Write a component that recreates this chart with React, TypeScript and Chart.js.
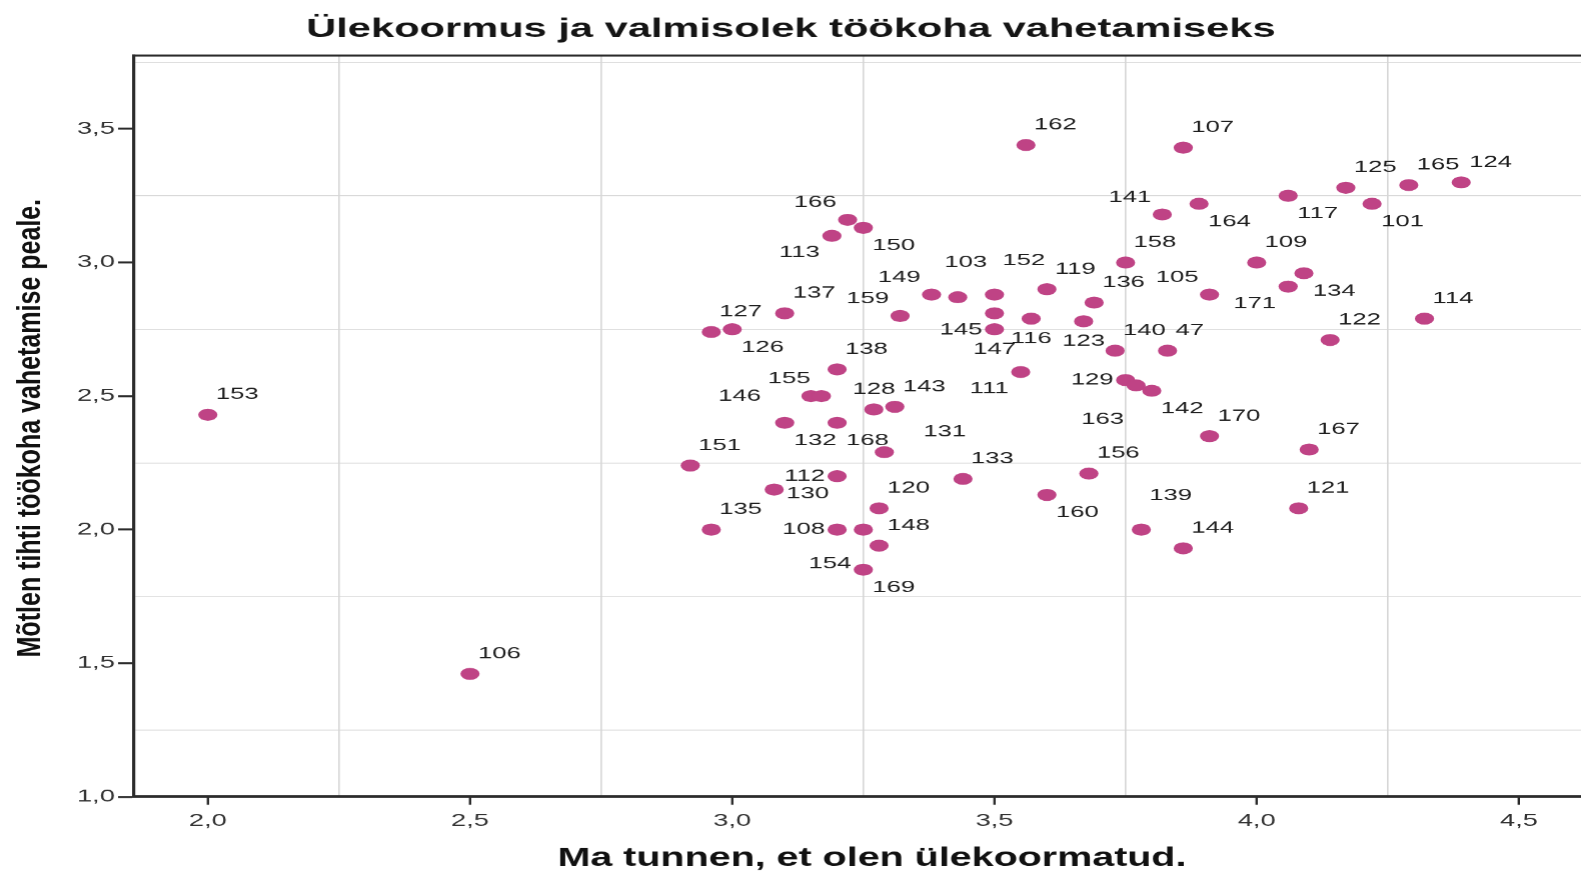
import React, { useEffect, useRef } from 'react';
import { Chart, registerables } from 'chart.js';

Chart.register(...registerables);

// ---------- data ----------
const caseIds = [
  '153', '106', '162', '107', '125', '165', '124', '117', '101', '141',
  '164', '166', '150', '113', '158', '109', '134', '171', '105', '136',
  '119', '152', '103', '149', '137', '159', '127', '126', '145', '147',
  '116', '123', '140', '47', '122', '114', '138', '146', '155', '132',
  '168', '128', '143', '131', '111', '129', '163', '142', '170', '167',
  '121', '151', '133', '156', '160', '112', '130', '120', '139', '144',
  '135', '108', '154', '148', '169',
];

const overloadValues = [
  2.00, 2.50, 3.56, 3.86, 4.17, 4.29, 4.39, 4.06, 4.22, 3.82,
  3.89, 3.22, 3.25, 3.19, 3.75, 4.00, 4.09, 4.06, 3.91, 3.69,
  3.60, 3.50, 3.43, 3.38, 3.10, 3.32, 2.96, 3.00, 3.50, 3.50,
  3.57, 3.67, 3.73, 3.83, 4.14, 4.32, 3.20, 3.15, 3.17, 3.10,
  3.20, 3.27, 3.31, 3.29, 3.55, 3.75, 3.77, 3.80, 3.91, 4.10,
  4.08, 2.92, 3.44, 3.68, 3.60, 3.20, 3.08, 3.28, 3.78, 3.86,
  2.96, 3.20, 3.25, 3.28, 3.25,
];

const changeJobValues = [
  2.43, 1.46, 3.44, 3.43, 3.28, 3.29, 3.30, 3.25, 3.22, 3.18,
  3.22, 3.16, 3.13, 3.10, 3.00, 3.00, 2.96, 2.91, 2.88, 2.85,
  2.90, 2.88, 2.87, 2.88, 2.81, 2.80, 2.74, 2.75, 2.81, 2.75,
  2.79, 2.78, 2.67, 2.67, 2.71, 2.79, 2.60, 2.50, 2.50, 2.40,
  2.40, 2.45, 2.46, 2.29, 2.59, 2.56, 2.54, 2.52, 2.35, 2.30,
  2.08, 2.24, 2.19, 2.21, 2.13, 2.20, 2.15, 2.08, 2.00, 1.93,
  2.00, 2.00, 2.00, 1.94, 1.85,
];

// where each case label sits around its point (compass codes)
const labelPlacement = [
  'NE', 'NE', 'NE', 'NE', 'NE', 'NE', 'NE', 'SE', 'SE', 'NW',
  'SE', 'NW', 'SE', 'SW', 'NE', 'NE', 'SE', 'SW', 'NW', 'NE',
  'NE', 'NEH', 'NH', 'NW', 'NE', 'NW', 'NE', 'SE', 'SW', 'S',
  'S', 'S', 'NE', 'NE', 'NE', 'NE', 'NE', 'WF', 'NW', 'SE',
  'SE', 'N', 'NE', 'NEF', 'SW', 'W', 'SWL', 'SE', 'NE', 'NE',
  'NE', 'NE', 'NE', 'NE', 'SE', 'W', 'E', 'NE', 'NEH', 'NE',
  'NE', 'W', 'SWL', 'NE', 'SE',
];

const xTickValues = [2.0, 2.5, 3.0, 3.5, 4.0, 4.5];
const xGridValues = [2.25, 2.75, 3.25, 3.75, 4.25];
const yTickValues = [1.0, 1.5, 2.0, 2.5, 3.0, 3.5];
const yGridValues = [1.25, 1.75, 2.25, 2.75, 3.25, 3.75];

const chartTitle = 'Ülekoormus ja valmisolek töökoha vahetamiseks';
const xAxisTitle = 'Ma tunnen, et olen ülekoormatud.';
const yAxisTitle = 'Mõtlen tihti töökoha vahetamise peale.';

// ---------- layout / style ----------
const SCREEN_W = 1581;
const BASE_W = 988;
const BASE_H = 874;
const K = SCREEN_W / BASE_W;

const POINT_COLOR = '#BF4385';
const GRID_COLOR = '#d6d6d6';
const AXIS_COLOR = '#2b2b2b';
const FONT = '"Liberation Sans", Arial, Helvetica, sans-serif';

// offsets in screen pixels [dx, dy, align]
const PLACE: Record<string, [number, number, CanvasTextAlign]> = {
  NE: [8, -20, 'left'],
  NEH: [8, -34, 'left'],
  NEF: [39, -20, 'left'],
  N: [0, -20, 'center'],
  NH: [8, -35, 'center'],
  S: [0, 20, 'center'],
  SE: [9, 18, 'left'],
  SW: [-12, 17, 'right'],
  SWL: [-12, 34, 'right'],
  NW: [-11, -17, 'right'],
  W: [-12, 0, 'right'],
  WF: [-50, 0, 'right'],
  E: [12, 4, 'left'],
};

const near = (list: number[], v: number) => list.some((t) => Math.abs(t - v) < 1e-6);
const fmt = (v: number) => v.toFixed(1).replace('.', ',');

const annotatePlugin = {
  id: 'annotate',
  afterDatasetsDraw(chart: any) {
    const meta = chart.getDatasetMeta(0);
    const ctx = chart.ctx as CanvasRenderingContext2D;
    ctx.save();
    ctx.font = `16px ${FONT}`;
    ctx.fillStyle = '#1e1e1e';
    ctx.textBaseline = 'middle';
    meta.data.forEach((pt: any, i: number) => {
      const p = PLACE[labelPlacement[i]] || PLACE.NE;
      ctx.textAlign = p[2];
      ctx.fillText(caseIds[i], pt.x + p[0] / K, pt.y + p[1]);
    });
    ctx.restore();
  },
  afterDraw(chart: any) {
    const ctx = chart.ctx as CanvasRenderingContext2D;
    const a = chart.chartArea;
    ctx.save();
    // top frame line
    ctx.strokeStyle = AXIS_COLOR;
    ctx.lineWidth = 2;
    ctx.beginPath();
    ctx.moveTo(a.left, a.top);
    ctx.lineTo(a.right, a.top);
    ctx.stroke();

    ctx.fillStyle = '#111';
    ctx.textAlign = 'center';
    ctx.textBaseline = 'middle';

    // x axis title
    ctx.save();
    ctx.translate((a.left + a.right) / 2 + 14 / K, a.bottom + 61.5);
    ctx.scale(1.46 / K, 1);
    ctx.font = `bold 27px ${FONT}`;
    ctx.fillText(xAxisTitle, 0, 0);
    ctx.restore();

    // y axis title
    ctx.save();
    ctx.translate(31 / K, (a.top + a.bottom) / 2 + 2);
    ctx.scale(1.3 / K, 1);
    ctx.rotate(-Math.PI / 2);
    ctx.font = `bold 25px ${FONT}`;
    ctx.fillText(yAxisTitle, 0, 0);
    ctx.restore();

    ctx.restore();
  },
};

export default function App() {
  const canvasRef = useRef<HTMLCanvasElement | null>(null);

  useEffect(() => {
    document.body.style.margin = '0';
    document.body.style.overflow = 'hidden';
    const canvas = canvasRef.current;
    if (!canvas) return;

    const points = overloadValues.map((x, i) => ({ x, y: changeJobValues[i] }));

    const chart = new Chart(canvas, {
      type: 'scatter',
      data: {
        datasets: [
          {
            data: points,
            backgroundColor: POINT_COLOR,
            borderColor: POINT_COLOR,
            borderWidth: 0,
            pointRadius: 6,
            pointHoverRadius: 6,
          },
        ],
      },
      options: {
        animation: false,
        responsive: true,
        maintainAspectRatio: false,
        devicePixelRatio: 1.6,
        events: [],
        layout: { padding: 0, autoPadding: false },
        plugins: {
          legend: { display: false },
          tooltip: { enabled: false },
          title: {
            display: true,
            text: chartTitle,
            color: '#151515',
            font: { family: FONT, size: 26, weight: 'bold', lineHeight: 1.2 },
            padding: { top: 14.4, bottom: 9.9 },
          },
        },
        scales: {
          x: {
            type: 'linear',
            min: 1.8594,
            max: 4.62,
            afterBuildTicks: (scale: any) => {
              scale.ticks = [...xTickValues, ...xGridValues]
                .filter((v) => v >= scale.min && v <= scale.max)
                .sort((p, q) => p - q)
                .map((v) => ({ value: v }));
            },
            afterFit: (scale: any) => {
              scale.height = 77.5;
            },
            ticks: {
              autoSkip: false,
              maxRotation: 0,
              minRotation: 0,
              padding: 6,
              color: '#333',
              font: { family: FONT, size: 17 },
              callback: (v: any) => (near(xTickValues, Number(v)) ? fmt(Number(v)) : ''),
            },
            grid: {
              drawOnChartArea: true,
              drawTicks: true,
              tickLength: 8,
              lineWidth: 1,
              color: (c: any) => (c.tick && near(xGridValues, c.tick.value) ? GRID_COLOR : 'rgba(0,0,0,0)'),
              tickColor: (c: any) => (c.tick && near(xTickValues, c.tick.value) ? AXIS_COLOR : 'rgba(0,0,0,0)'),
              tickWidth: 1.5,
            },
            border: { display: true, color: AXIS_COLOR, width: 2.5 },
            title: { display: false },
          },
          y: {
            type: 'linear',
            min: 1.0,
            max: 3.775,
            afterBuildTicks: (scale: any) => {
              scale.ticks = [...yTickValues, ...yGridValues]
                .filter((v) => v >= scale.min && v <= scale.max)
                .sort((p, q) => p - q)
                .map((v) => ({ value: v }));
            },
            afterFit: (scale: any) => {
              scale.width = 134 / K;
            },
            ticks: {
              autoSkip: false,
              padding: 2,
              color: '#333',
              font: { family: FONT, size: 17 },
              callback: (v: any) => (near(yTickValues, Number(v)) ? fmt(Number(v)) : ''),
            },
            grid: {
              drawOnChartArea: true,
              drawTicks: true,
              tickLength: 10,
              lineWidth: 1,
              color: (c: any) => (c.tick && near(yGridValues, c.tick.value) ? GRID_COLOR : 'rgba(0,0,0,0)'),
              tickColor: (c: any) => (c.tick && near(yTickValues, c.tick.value) ? AXIS_COLOR : 'rgba(0,0,0,0)'),
              tickWidth: 2,
            },
            border: { display: true, color: AXIS_COLOR, width: 2 },
            title: { display: false },
          },
        },
      },
      plugins: [annotatePlugin],
    } as any);

    return () => {
      chart.destroy();
    };
  }, []);

  return (
    <div
      style={{
        width: BASE_W,
        height: BASE_H,
        transform: `scaleX(${K})`,
        transformOrigin: '0 0',
        position: 'relative',
      }}
    >
      <canvas ref={canvasRef} />
    </div>
  );
}
